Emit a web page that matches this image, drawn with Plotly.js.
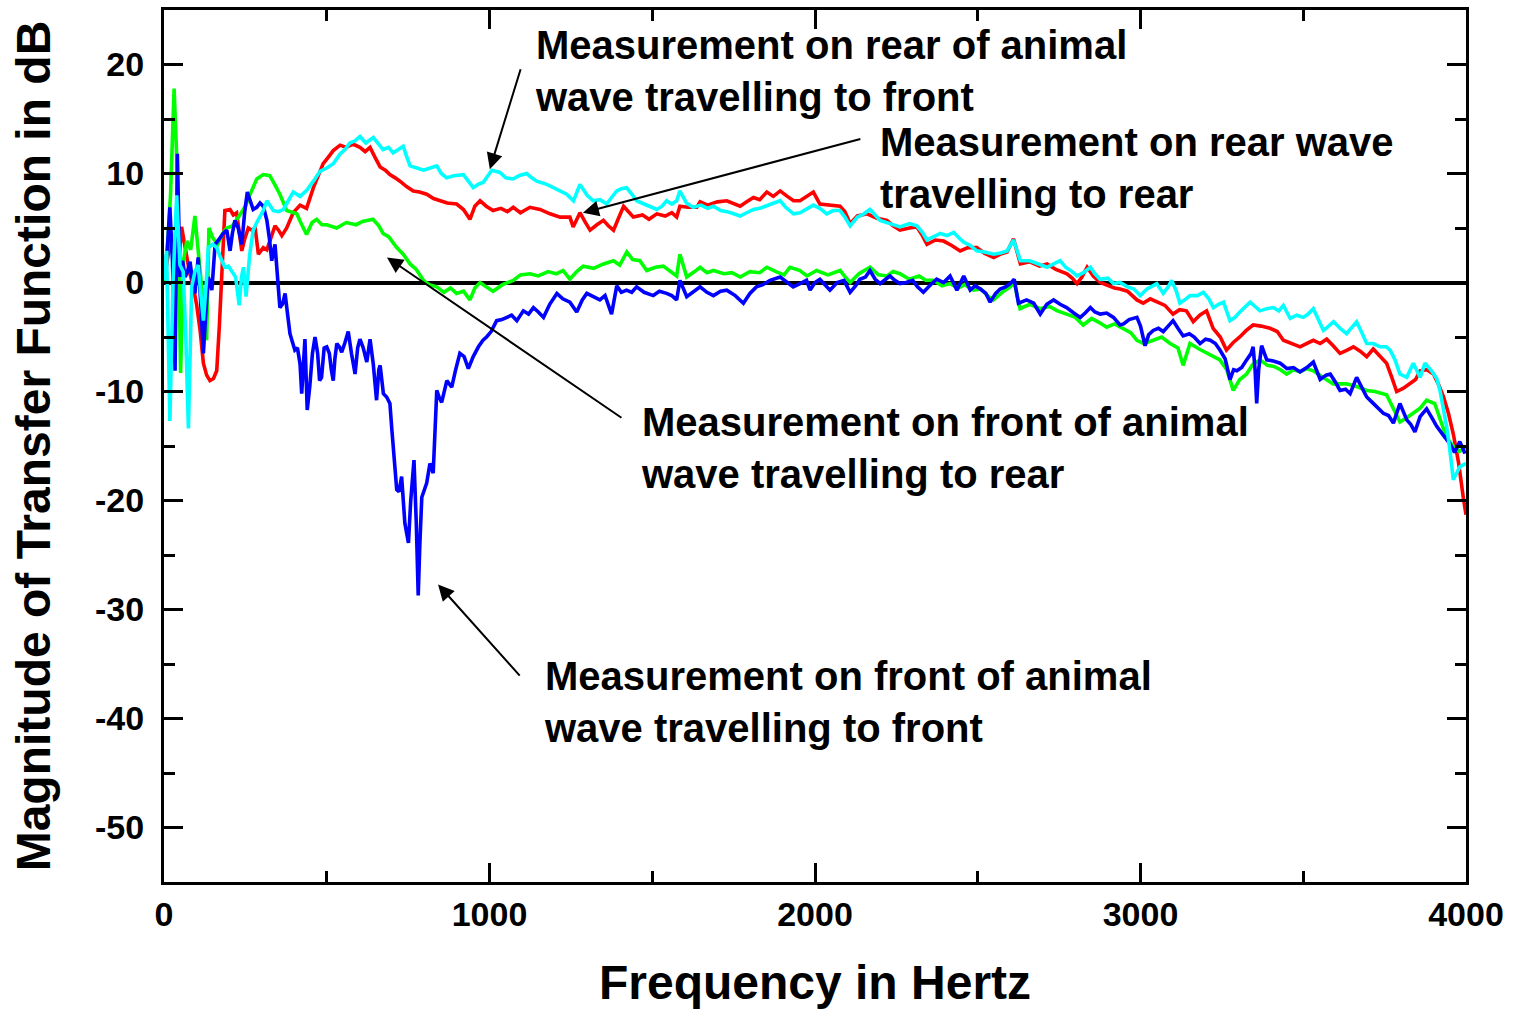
<!DOCTYPE html>
<html>
<head>
<meta charset="utf-8">
<script src="https://cdn.plot.ly/plotly-3.0.1.min.js"></script>
<style>html,body{margin:0;padding:0;background:#fff;}#chart{width:1514px;height:1009px;}</style>
</head>
<body>
<div id="chart"></div>
<script>
// Rear of animal, wave travelling to rear (red)
const freqRed = [0,10,20,30,40,54,65,78,90,100,111,121,131,141,152,162,170,177,187,203,213,223,232,239,248,259,270,280,290,305,316,326,341,352,362,377,397,418,438,459,475,489,505,520,541,560,580,602,618,633,648,664,680,694,710,725,745,766,785,807,828,848,870,899,920,940,955,971,990,1011,1035,1055,1073,1095,1124,1155,1186,1217,1247,1257,1278,1295,1309,1330,1350,1365,1381,1395,1412,1430,1442,1470,1490,1514,1540,1560,1575,1585,1610,1637,1647,1670,1700,1729,1750,1770,1790,1811,1830,1852,1872,1893,1915,1934,1954,1975,1995,2015,2045,2077,2092,2108,2130,2160,2190,2221,2240,2261,2290,2313,2330,2344,2370,2395,2420,2446,2470,2497,2520,2549,2570,2590,2610,2631,2660,2690,2713,2740,2774,2790,2805,2820,2836,2855,2876,2900,2920,2937,2960,2989,3008,3030,3050,3075,3100,3120,3141,3162,3182,3203,3223,3245,3264,3285,3305,3325,3346,3370,3398,3420,3439,3465,3490,3510,3531,3552,3572,3592,3613,3635,3654,3675,3695,3715,3736,3756,3772,3787,3808,3828,3845,3859,3880,3900,3915,3931,3946,3961,3977,3992,4000];
const dbRed = [0,2,4,2,0,5.1,3,1,-0.4,-2,-4.4,-7.4,-8.5,-9.0,-8.8,-8.1,-4,0.2,6.6,6.7,6.2,6.4,4.5,2.9,4.0,5.0,4.8,5.0,2.6,3.2,3.0,3.8,5.2,4.8,4.3,5.0,6.4,7.1,6.8,8.7,10.0,10.9,11.5,12.1,12.6,12.4,12.7,12.4,12.0,12.4,11.5,10.6,10.3,9.9,9.6,9.3,8.8,8.4,8.3,8.1,7.7,7.5,7.3,7.2,6.7,5.8,7.0,7.5,7.0,6.6,6.8,6.5,6.9,6.4,6.9,6.7,6.3,6.0,6.0,5.1,6.4,5.5,4.8,5.3,5.7,5.2,4.8,5.8,7.0,6.4,6.0,6.2,5.8,6.3,6.1,6.4,6.0,7.0,6.9,6.9,7.4,7.1,7.4,7.5,7.2,7.0,7.4,7.8,7.6,8.3,7.9,8.4,7.9,7.5,7.5,7.9,8.3,7.2,7.1,7.0,6.5,5.4,6.1,6.3,5.9,5.7,5.2,4.8,5.0,5.1,4.3,3.5,3.9,3.8,3.4,2.9,3.2,3.2,2.7,2.3,2.6,2.8,4.0,1.7,1.9,1.5,1.7,1.2,0.8,0.4,-0.1,0.5,1.4,0.6,0.0,-0.3,-0.5,-0.6,-0.8,-1.6,-1.9,-1.5,-1.8,-2.1,-2.9,-2.5,-2.6,-3.6,-3.0,-2.6,-4.2,-5.0,-6.2,-5.5,-5.0,-4.4,-3.9,-4.0,-4.2,-4.5,-5.3,-5.6,-5.9,-5.6,-5.3,-5.6,-5.2,-5.8,-6.5,-6.2,-5.9,-6.3,-6.8,-6.1,-6.8,-7.4,-8.7,-10.0,-9.7,-9.3,-8.9,-8.1,-8.0,-8.4,-9.3,-10.5,-12.0,-13.9,-16.5,-19.8,-21.3];

// Front of animal, wave travelling to rear (green)
const freqGreen = [0,10,20,31,41,51,60,70,82,95,108,120,131,138,150,165,180,193,210,233,250,269,285,305,325,340,356,377,408,420,438,455,469,485,500,530,560,590,610,642,660,673,690,715,735,756,775,797,815,838,860,880,899,920,940,955,971,990,1011,1040,1073,1095,1124,1150,1180,1205,1226,1247,1268,1288,1320,1350,1381,1400,1422,1440,1462,1483,1510,1534,1555,1575,1585,1606,1630,1647,1668,1688,1720,1745,1770,1800,1830,1852,1880,1905,1923,1954,1975,2005,2040,2077,2090,2108,2135,2169,2195,2221,2240,2261,2290,2320,2340,2364,2390,2415,2440,2460,2487,2510,2530,2548,2575,2600,2612,2630,2660,2691,2720,2745,2773,2800,2824,2850,2875,2896,2920,2947,2970,2989,3010,3039,3065,3091,3115,3131,3152,3180,3204,3225,3244,3265,3285,3305,3326,3345,3367,3390,3410,3430,3449,3470,3490,3510,3531,3560,3592,3633,3660,3695,3720,3756,3775,3797,3818,3838,3860,3879,3904,3920,3940,3960,3980,4000];
const dbGreen = [0,3,8,17.8,10,-8.3,2,3.8,3,6.1,2,-2,-5.3,5.0,4.1,3.5,4.5,5.0,5.2,6.2,7.0,8.4,9.5,9.9,9.8,9.0,8.1,6.6,6.3,5.5,4.4,5.5,5.8,5.3,5.3,5.0,5.5,5.3,5.6,5.8,5.2,4.5,4.2,3.2,2.6,1.7,1.2,0.2,-0.2,-0.4,-0.9,-0.5,-1.0,-0.8,-1.6,-0.5,0.0,-0.4,-0.8,-0.2,0.2,0.7,0.8,0.6,1.0,0.8,1.1,0.3,1.0,1.5,1.3,1.7,2.0,1.6,2.8,2.1,2.0,1.1,1.4,1.5,1.0,0.6,2.6,0.5,1.0,1.4,0.9,1.1,0.8,0.9,0.5,1.0,0.9,1.4,1.0,0.7,1.4,1.1,0.6,1.1,0.7,1.1,0.6,0.0,0.8,1.4,0.7,0.6,1.0,0.8,0.3,0.6,0.2,0.2,-0.3,-0.1,-0.5,-0.2,-0.7,-0.6,-1.2,-1.6,-0.9,-0.4,0.0,-2.4,-2.0,-2.4,-2.2,-2.6,-2.9,-3.2,-3.9,-3.3,-3.7,-4.1,-3.8,-4.2,-4.6,-5.3,-5.6,-5.3,-5.0,-5.6,-6.0,-7.6,-5.6,-6.1,-6.5,-6.8,-7.1,-8.0,-9.9,-8.9,-8.4,-7.5,-7.1,-7.6,-7.7,-8.0,-8.4,-8.0,-8.2,-7.9,-8.1,-8.7,-9.3,-9.3,-9.5,-9.9,-10.0,-10.3,-11.5,-12.8,-12.4,-12.0,-11.5,-10.8,-11.1,-12.5,-14.2,-15.0,-15.5,-15.1];

// Front of animal, wave travelling to front (blue)
const freqBlue = [0,10,18,26,34,41,49,57,65,72,80,88,95,105,113,121,128,136,147,157,170,182,193,203,210,218,228,239,248,256,265,274,285,295,305,316,324,331,341,350,356,364,372,380,387,395,402,410,418,423,428,433,440,448,456,464,472,478,484,492,500,508,514,520,525,531,539,546,556,566,576,587,595,602,612,623,633,643,653,660,664,674,684,694,700,705,715,722,730,740,751,758,768,775,781,786,792,807,817,827,833,838,845,853,869,884,896,909,922,935,950,966,980,991,1005,1022,1038,1053,1068,1084,1104,1120,1135,1150,1166,1185,1207,1225,1247,1268,1285,1299,1320,1339,1355,1375,1391,1405,1421,1437,1452,1475,1503,1522,1544,1560,1575,1585,1606,1625,1647,1668,1688,1710,1729,1755,1780,1800,1820,1840,1862,1893,1915,1933,1954,1974,1985,2000,2015,2030,2046,2068,2089,2108,2125,2138,2155,2169,2185,2200,2215,2230,2245,2261,2280,2300,2315,2333,2355,2374,2395,2415,2436,2457,2477,2492,2508,2525,2538,2555,2569,2585,2600,2612,2625,2650,2672,2692,2712,2733,2753,2773,2795,2815,2830,2846,2860,2876,2896,2917,2937,2948,2965,2989,3000,3014,3025,3039,3055,3070,3085,3100,3115,3131,3150,3165,3183,3200,3214,3230,3244,3260,3275,3286,3296,3311,3326,3340,3346,3352,3357,3363,3372,3388,3408,3429,3450,3470,3490,3511,3531,3552,3570,3583,3600,3613,3630,3644,3664,3680,3695,3712,3726,3746,3762,3777,3797,3818,3830,3843,3859,3879,3895,3910,3930,3951,3965,3981,3997];
const dbBlue = [0.5,3,6.9,2,-8.1,11.8,0.5,2,0.5,1,1.9,0,-1.0,2.3,-2,-6.5,-3,0.5,-0.7,3.5,4.0,4.5,4.8,2.9,4.5,5.7,5.0,3.5,6.5,8.3,7.5,6.7,6.9,7.3,7.0,5.7,4.0,2.0,3.5,0.5,-2.3,-2.0,-1.0,-3.0,-4.7,-5.5,-6.2,-6.0,-7.5,-10.2,-8.0,-5.2,-11.7,-9.5,-6.5,-5.0,-6.5,-9.0,-8.7,-6.0,-5.9,-6.5,-8.0,-9.0,-7.0,-5.6,-5.9,-6.4,-5.5,-4.5,-6.5,-8.4,-6.0,-5.2,-6.0,-7.3,-5.2,-7.5,-10.8,-8.0,-7.6,-10.2,-10.5,-11.1,-13.5,-15.4,-19.0,-19.2,-17.8,-22.1,-23.9,-20.0,-16.3,-22,-28.7,-24,-19.7,-18.4,-16.6,-17.5,-14,-9.9,-10.5,-11.0,-9.0,-9.6,-8.0,-6.5,-6.8,-7.9,-6.8,-5.9,-5.3,-5.0,-4.5,-3.5,-3.4,-3.2,-3.0,-3.5,-2.6,-2.9,-2.3,-2.7,-3.2,-2.0,-1.0,-1.5,-1.8,-2.7,-1.6,-1.0,-1.3,-1.6,-1.2,-2.9,-0.3,-0.9,-0.7,-0.9,-0.4,-0.9,-1.2,-0.8,-1.0,-1.2,-1.6,0.2,-1.3,-0.9,-0.4,-0.9,-1.2,-0.8,-0.7,-1.2,-1.9,-1.0,-0.4,-0.2,0.2,0.5,0.0,-0.4,-0.1,0.2,-0.7,0.0,0.3,-0.2,-0.7,0.0,0.2,-0.9,-0.3,0.3,0.5,1.1,0.3,-0.1,0.3,0.6,0.2,-0.1,0.0,0.2,-0.4,-0.9,-0.2,0.3,0.0,0.6,-0.7,0.6,-0.7,-0.3,-0.6,-1.0,-1.8,-1.0,-0.6,-0.4,-0.1,0.3,-1.9,-1.6,-1.9,-2.9,-2.0,-1.6,-2.0,-2.3,-2.8,-3.2,-2.8,-2.3,-2.7,-2.9,-2.8,-3.2,-3.9,-3.8,-3.4,-3.2,-4.0,-5.8,-4.8,-4.4,-4.2,-4.5,-4.0,-3.5,-4.2,-4.9,-4.7,-5.0,-5.6,-5.2,-5.3,-5.6,-6.2,-7.0,-8.9,-8.0,-8.1,-7.8,-7.1,-6.5,-5.9,-8.0,-11.1,-8.0,-5.8,-7.1,-7.2,-7.4,-7.9,-7.8,-8.2,-7.8,-7.3,-8.9,-8.5,-8.4,-9.2,-9.9,-9.8,-10.2,-8.7,-9.7,-10.5,-11.0,-11.4,-12.0,-12.2,-12.9,-11.1,-12.6,-13.0,-13.7,-12.3,-11.6,-12.4,-13.2,-14.0,-14.8,-15.6,-14.6,-15.7];

// Rear of animal, wave travelling to front (cyan)
const freqCyan = [0,8,18,28,39,49,59,67,75,85,95,105,113,121,130,136,150,162,175,187,198,208,220,231,238,244,252,263,274,285,295,305,316,326,336,352,367,382,397,418,440,459,479,500,520,541,556,571,587,602,620,643,658,673,690,704,720,735,745,756,777,797,818,838,852,868,890,920,935,950,965,981,1007,1032,1050,1073,1090,1114,1130,1145,1176,1206,1237,1258,1278,1300,1319,1340,1360,1375,1391,1405,1421,1440,1452,1475,1495,1514,1530,1544,1560,1575,1585,1605,1626,1650,1670,1688,1710,1730,1750,1770,1790,1811,1830,1850,1870,1893,1910,1934,1954,1975,1995,2015,2036,2056,2077,2092,2108,2130,2150,2169,2185,2200,2230,2261,2290,2313,2330,2344,2365,2385,2406,2426,2442,2457,2477,2497,2520,2549,2570,2590,2610,2631,2660,2690,2713,2733,2753,2770,2790,2805,2825,2846,2860,2876,2900,2917,2937,2960,2980,2999,3020,3050,3070,3085,3096,3110,3121,3140,3152,3175,3193,3210,3224,3240,3255,3275,3290,3305,3322,3337,3352,3367,3388,3408,3425,3439,3460,3480,3500,3515,3531,3545,3562,3578,3593,3613,3633,3650,3664,3680,3695,3715,3736,3755,3767,3782,3797,3818,3838,3859,3874,3894,3910,3920,3931,3941,3951,3961,3971,3981,4000];
const dbCyan = [0.2,2.9,-12.7,0.2,8.0,1.6,1.0,-5,-13.4,-0.4,1.0,1.6,-1,-3.5,0,3.2,3.5,3.2,2.2,1.4,1.5,1.1,0.5,-2.1,0.5,1.4,-1.3,2.5,4.8,5.5,6.0,6.6,7.5,7.0,6.6,6.5,6.7,7.5,8.3,7.9,8.5,9.3,10.2,10.5,10.9,11.8,12.2,12.8,13.0,13.4,12.8,13.3,12.7,12.2,12.4,11.9,12.2,12.5,11.6,10.7,10.5,10.3,10.5,10.7,10.0,9.6,9.8,9.9,9.3,8.7,9.0,9.2,10.3,10.1,9.6,9.5,9.8,10.0,9.6,9.3,9.0,8.6,8.1,7.5,9.0,8.0,7.5,7.6,7.2,7.8,8.4,8.6,8.7,8.0,7.5,7.2,6.9,6.7,7.0,7.5,7.2,7.5,8.4,7.3,6.9,7.1,6.8,7.0,6.6,6.5,6.3,6.1,6.4,6.7,6.8,7.0,7.2,7.5,6.9,6.3,6.4,6.8,7.1,6.8,6.3,6.6,6.6,6.0,5.2,6.0,6.3,6.7,6.2,5.7,5.4,5.1,5.4,5.2,4.6,3.9,4.2,4.5,4.3,4.6,4.1,3.7,3.4,2.9,2.8,2.6,2.7,2.9,3.9,2.0,2.0,1.7,1.4,1.7,2.0,1.4,1.0,0.6,0.9,1.4,0.8,0.3,0.4,-0.1,0.0,-0.4,-0.6,-1.2,-0.6,-0.1,-1.0,-0.4,0.2,-0.8,-1.9,-1.5,-1.2,-1.2,-0.9,-1.5,-2.3,-2.0,-1.8,-3.5,-3.2,-2.7,-2.2,-1.8,-2.2,-2.6,-2.4,-2.3,-2.6,-2.1,-3.3,-3.0,-3.2,-2.9,-2.4,-3.3,-4.4,-4.0,-3.6,-4.2,-4.7,-4.1,-3.6,-4.6,-5.6,-5.6,-5.9,-5.9,-6.2,-7.1,-8.4,-8.7,-7.4,-8.7,-7.4,-8.1,-8.8,-9.9,-11.5,-13.3,-15.5,-18.1,-17.5,-16.9,-16.6];

const xTickVals = [0,1000,2000,3000,4000];
const yTickVals = [20,10,0,-10,-20,-30,-40,-50];

const labels = [
  {text:'Measurement on rear of animal<br>wave travelling to front', x:1134, y:19.4},
  {text:'Measurement on rear wave<br>travelling to rear', x:2194, y:10.5},
  {text:'Measurement on front of animal<br>wave travelling to rear', x:1460, y:-15.2},
  {text:'Measurement on front of animal<br>wave travelling to front', x:1162, y:-38.5}
];
// arrows: tail (ax, ay) -> tip (x, y) in data units
const arrows = [
  {ax:1097, ay:19.7, x:1001, y:10.4},
  {ax:2144, ay:13.2, x:1287, y:6.4},
  {ax:1410, ay:-12.5, x:685, y:2.3},
  {ax:1097, ay:-36.2, x:842, y:-27.7}
];

const FONT = 'Liberation Sans, Arial, sans-serif';
function tr(x, y, color){
  return {x:x, y:y, type:'scatter', mode:'lines', line:{color:color, width:3.6}, hoverinfo:'skip', showlegend:false};
}
const data = [
  tr(freqRed, dbRed, '#ff0000'),
  tr(freqGreen, dbGreen, '#00ff00'),
  tr(freqBlue, dbBlue, '#0000ff'),
  tr(freqCyan, dbCyan, '#00ffff')
];

const annotations = [];
labels.forEach(l => annotations.push({
  text:l.text, x:l.x, y:l.y, xref:'x', yref:'y', showarrow:false,
  xanchor:'left', yanchor:'middle', align:'left',
  font:{family:FONT, size:40, color:'#000', weight:'bold'}
}));
arrows.forEach(a => annotations.push({
  text:'', x:a.x, y:a.y, ax:a.ax, ay:a.ay, xref:'x', yref:'y', axref:'x', ayref:'y',
  showarrow:true, arrowhead:2, arrowsize:1.6, arrowwidth:2, arrowcolor:'#000', standoff:0, startstandoff:0
}));

const layout = {
  width:1514, height:1009,
  margin:{l:164, r:48, t:10, b:127},
  paper_bgcolor:'#fff', plot_bgcolor:'#fff',
  font:{family:FONT, color:'#000'},
  xaxis:{
    range:[0,4000], tickvals:xTickVals, ticktext:xTickVals.map(String),
    ticks:'inside', ticklen:19, tickwidth:3, tickcolor:'#000',
    showline:true, linewidth:3, linecolor:'#000', mirror:'ticks',
    showgrid:false, zeroline:false, ticklabelstandoff:0,
    tickfont:{family:FONT, size:34, weight:'bold'},
    minor:{dtick:500, ticks:'inside', ticklen:11, tickwidth:3, tickcolor:'#000', showgrid:false},
    title:{text:'Frequency in Hertz', font:{family:FONT, size:48, weight:'bold'}, standoff:34},
    automargin:false
  },
  yaxis:{
    range:[-55,25], tickvals:yTickVals, ticktext:yTickVals.map(String),
    ticks:'inside', ticklen:19, tickwidth:3, tickcolor:'#000',
    showline:true, linewidth:3, linecolor:'#000', mirror:'ticks',
    showgrid:false, zeroline:true, zerolinewidth:4, zerolinecolor:'#000', ticklabelstandoff:10,
    tickfont:{family:FONT, size:34, weight:'bold'},
    minor:{dtick:5, ticks:'inside', ticklen:11, tickwidth:3, tickcolor:'#000', showgrid:false},
    title:{text:'Magnitude of Transfer Function in dB', font:{family:FONT, size:48, weight:'bold'}, standoff:30},
    automargin:false
  },
  annotations:annotations
};

Plotly.newPlot('chart', data, layout, {displayModeBar:false, staticPlot:true});
</script>
</body>
</html>
